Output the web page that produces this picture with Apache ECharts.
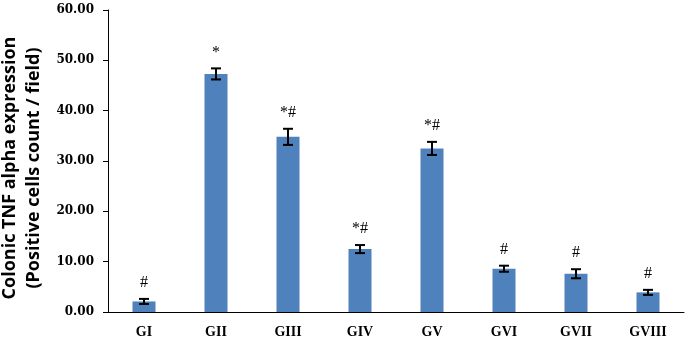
<!DOCTYPE html>
<html>
<head>
<meta charset="utf-8">
<script src="https://cdn.jsdelivr.net/npm/echarts@6/dist/echarts.min.js"></script>
<style>html,body{margin:0;padding:0;background:#fff;}#c{width:685px;height:342px;}</style>
</head>
<body>
<div id="c"></div>
<script>
var categories = ['GI', 'GII', 'GIII', 'GIV', 'GV', 'GVI', 'GVII', 'GVIII'];
var means = [2.1, 47.3, 34.8, 12.5, 32.5, 8.6, 7.6, 3.9];
var errors = [0.5, 1.1, 1.6, 0.8, 1.3, 0.6, 0.9, 0.5];
var marks = ['#', '*', '*#', '*#', '*#', '#', '#', '#'];
var yTicks = [0, 10, 20, 30, 40, 50, 60];

var chart = echarts.init(document.getElementById('c'), null, {renderer: 'canvas'});
var errData = categories.map(function (c, i) { return [i, means[i], errors[i], marks[i]]; });

chart.setOption({
  animation: false,
  backgroundColor: '#ffffff',
  grid: {left: 108, right: 1, top: 10, bottom: 30, containLabel: false, outerBoundsMode: 'none'},
  xAxis: {
    type: 'category',
    data: categories,
    axisLine: {lineStyle: {color: '#000', width: 1}},
    axisTick: {show: false},
    axisLabel: {
      margin: 13,
      fontFamily: 'Liberation Serif',
      fontWeight: 'bold',
      fontSize: 14,
      color: '#000'
    }
  },
  yAxis: {
    type: 'value',
    min: yTicks[0],
    max: yTicks[yTicks.length - 1],
    interval: 10,
    name: 'Colonic TNF alpha expression\n(Positive cells count / field)',
    nameLocation: 'middle',
    nameRotate: 90,
    nameGap: 61,
    nameTextStyle: {
      fontFamily: 'Open Sans',
      fontWeight: 'bold',
      fontSize: 18,
      lineHeight: 24,
      color: '#000',
      padding: [0, 14, 0, 0]
    },
    axisLine: {show: true, lineStyle: {color: '#000', width: 1}},
    axisTick: {show: true, length: 5, inside: false, lineStyle: {color: '#000'}},
    splitLine: {show: false},
    axisLabel: {
      margin: 14,
      fontFamily: 'DejaVu Serif',
      fontWeight: 'bold',
      fontSize: 12,
      color: '#000',
      formatter: function (v) { return v.toFixed(2); }
    }
  },
  series: [
    {
      type: 'bar',
      data: means,
      barWidth: 23,
      itemStyle: {color: '#4F81BD'}
    },
    {
      type: 'custom',
      data: errData,
      z: 10,
      renderItem: function (params, api) {
        var x = api.value(0);
        var m = api.value(1);
        var e = api.value(2);
        var mk = errData[params.dataIndex][3];
        var hi = api.coord([x, m + e]);
        var lo = api.coord([x, m - e]);
        var hw = 5;
        var ls = {stroke: '#000', lineWidth: 2};
        return {
          type: 'group',
          children: [
            {type: 'line', shape: {x1: hi[0], y1: hi[1], x2: lo[0], y2: lo[1]}, style: ls},
            {type: 'line', shape: {x1: hi[0] - hw, y1: hi[1], x2: hi[0] + hw, y2: hi[1]}, style: ls},
            {type: 'line', shape: {x1: lo[0] - hw, y1: lo[1], x2: lo[0] + hw, y2: lo[1]}, style: ls},
            {type: 'text', x: hi[0], y: hi[1] - 8, style: {
              text: mk, textAlign: 'center', textVerticalAlign: 'bottom',
              font: '16px "Liberation Serif"', fill: '#000'
            }}
          ]
        };
      }
    }
  ]
});
</script>
</body>
</html>
